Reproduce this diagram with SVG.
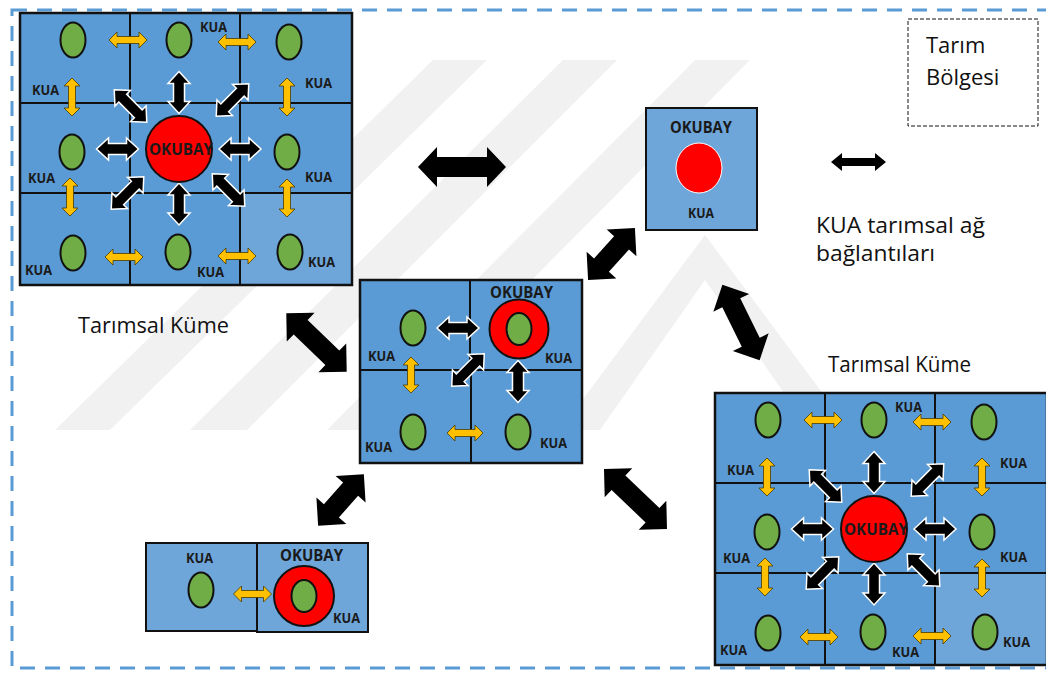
<svg xmlns="http://www.w3.org/2000/svg" xmlns:xlink="http://www.w3.org/1999/xlink" width="1046" height="675" viewBox="0 0 1046 675">
<style>
.cell{fill:#5b9bd5;stroke:#111;stroke-width:2}
.cellL{fill:#6ea6da;stroke:#111;stroke-width:2}
.frame{fill:none;stroke:#111;stroke-width:2.5}
.div{stroke:#111;stroke-width:2}
.olive{fill:#70ad47;stroke:#111;stroke-width:2}
.red{fill:#ff0000;stroke:#111;stroke-width:2}
.ya{fill:#ffc000;stroke:#4a3a00;stroke-width:0.8}
.ba{fill:#000;stroke:#fff;stroke-width:1.5}
.big{fill:#000}
.kua{font-family:"Open Sans","Liberation Sans",sans-serif;font-weight:bold;font-size:14px;fill:#1a1a1a}
.ok{font-family:"Open Sans","Liberation Sans",sans-serif;font-weight:bold;font-size:16px;fill:#1a1a1a}
.lbl{font-family:"Open Sans","Liberation Sans",sans-serif;font-size:22px;fill:#111}
.wm{fill:#f1f1f1}
</style>
<defs>
<path id="ySmall" d="M-19,0 L-11,-8 L-11,-3.5 L11,-3.5 L11,-8 L19,0 L11,8 L11,3.5 L-11,3.5 L-11,8 Z"/>
<path id="ySmall36" d="M-18,0 L-10,-8 L-10,-3.5 L10,-3.5 L10,-8 L18,0 L10,8 L10,3.5 L-10,3.5 L-10,8 Z"/>
<path id="bSmall" d="M-21,0 L-9,-11 L-9,-5.5 L9,-5.5 L9,-11 L21,0 L9,11 L9,5.5 L-9,5.5 L-9,11 Z"/>
<path id="bDiag" d="M-23,0 L-11,-11 L-11,-5.5 L11,-5.5 L11,-11 L23,0 L11,11 L11,5.5 L-11,5.5 L-11,11 Z"/>
</defs>

<g id="watermark">
<polygon class="wm" points="55,430 110,430 487,60 433,60"/>
<polygon class="wm" points="190,430 247,430 617,60 563,60"/>
<polygon class="wm" points="327,430 383,430 750,60 695,60"/>
<polygon class="wm" points="560,430 600,430 705,280 810,430 850,430 705,235"/>
</g>

<rect id="region" x="12" y="10" width="1045" height="658" fill="none" stroke="#5b9bd5" stroke-width="3" stroke-dasharray="15 10"/>

<g id="cluster-tl">
<rect class="cell" x="20" y="13" width="332" height="272"/>
<rect class="cellL" x="240" y="193" width="112" height="92"/>
<line class="div" x1="130" y1="13" x2="130" y2="285"/>
<line class="div" x1="240" y1="13" x2="240" y2="285"/>
<line class="div" x1="20" y1="103" x2="352" y2="103"/>
<line class="div" x1="20" y1="193" x2="352" y2="193"/>
<rect class="frame" x="20" y="13" width="332" height="272"/>
<ellipse class="olive" cx="73" cy="40" rx="12.5" ry="17.5"/>
<ellipse class="olive" cx="179" cy="40" rx="12.5" ry="17.5"/>
<ellipse class="olive" cx="289" cy="42" rx="12.5" ry="17.5"/>
<ellipse class="olive" cx="72" cy="152" rx="12.5" ry="17.5"/>
<ellipse class="olive" cx="287" cy="152" rx="12.5" ry="17.5"/>
<ellipse class="olive" cx="73" cy="253" rx="12.5" ry="17.5"/>
<ellipse class="olive" cx="178" cy="252" rx="12.5" ry="17.5"/>
<ellipse class="olive" cx="290" cy="252" rx="12.5" ry="17.5"/>
<use href="#ySmall" class="ya" transform="translate(128,40)"/>
<use href="#ySmall" class="ya" transform="translate(237,42)"/>
<use href="#ySmall" class="ya" transform="translate(124,257)"/>
<use href="#ySmall" class="ya" transform="translate(237,256)"/>
<use href="#ySmall" class="ya" transform="translate(72,97) rotate(90)"/>
<use href="#ySmall" class="ya" transform="translate(287,97) rotate(90)"/>
<use href="#ySmall" class="ya" transform="translate(70,197) rotate(90)"/>
<use href="#ySmall" class="ya" transform="translate(287,198) rotate(90)"/>
<use href="#bSmall" class="ba" transform="translate(179,92.5) rotate(90)"/>
<use href="#bSmall" class="ba" transform="translate(179,204) rotate(90)"/>
<use href="#bSmall" class="ba" transform="translate(117.5,149)"/>
<use href="#bSmall" class="ba" transform="translate(240,149)"/>
<use href="#bDiag" class="ba" transform="translate(130.5,106) rotate(45)"/>
<use href="#bDiag" class="ba" transform="translate(232.5,100) rotate(-45)"/>
<use href="#bDiag" class="ba" transform="translate(127.5,193) rotate(-45)"/>
<use href="#bDiag" class="ba" transform="translate(228.5,190) rotate(45)"/>
<circle class="red" cx="179" cy="149" r="33"/>
<text class="ok" x="149" y="155" font-size="17" textLength="64" lengthAdjust="spacingAndGlyphs">OKUBAY</text>
<text class="kua" x="200" y="32" textLength="27" lengthAdjust="spacingAndGlyphs">KUA</text>
<text class="kua" x="32" y="95" textLength="27" lengthAdjust="spacingAndGlyphs">KUA</text>
<text class="kua" x="305" y="88" textLength="27" lengthAdjust="spacingAndGlyphs">KUA</text>
<text class="kua" x="28" y="183" textLength="27" lengthAdjust="spacingAndGlyphs">KUA</text>
<text class="kua" x="305" y="182" textLength="27" lengthAdjust="spacingAndGlyphs">KUA</text>
<text class="kua" x="25" y="275" textLength="27" lengthAdjust="spacingAndGlyphs">KUA</text>
<text class="kua" x="197" y="277" textLength="27" lengthAdjust="spacingAndGlyphs">KUA</text>
<text class="kua" x="308" y="267" textLength="27" lengthAdjust="spacingAndGlyphs">KUA</text>
</g>

<g id="cluster-br" transform="translate(695,380)">
<rect class="cell" x="20" y="13" width="332" height="272"/>
<rect class="cellL" x="240" y="193" width="112" height="92"/>
<line class="div" x1="130" y1="13" x2="130" y2="285"/>
<line class="div" x1="240" y1="13" x2="240" y2="285"/>
<line class="div" x1="20" y1="103" x2="352" y2="103"/>
<line class="div" x1="20" y1="193" x2="352" y2="193"/>
<rect class="frame" x="20" y="13" width="332" height="272"/>
<ellipse class="olive" cx="73" cy="40" rx="12.5" ry="17.5"/>
<ellipse class="olive" cx="179" cy="40" rx="12.5" ry="17.5"/>
<ellipse class="olive" cx="289" cy="42" rx="12.5" ry="17.5"/>
<ellipse class="olive" cx="72" cy="152" rx="12.5" ry="17.5"/>
<ellipse class="olive" cx="287" cy="152" rx="12.5" ry="17.5"/>
<ellipse class="olive" cx="73" cy="253" rx="12.5" ry="17.5"/>
<ellipse class="olive" cx="178" cy="252" rx="12.5" ry="17.5"/>
<ellipse class="olive" cx="290" cy="252" rx="12.5" ry="17.5"/>
<use href="#ySmall" class="ya" transform="translate(128,40)"/>
<use href="#ySmall" class="ya" transform="translate(237,42)"/>
<use href="#ySmall" class="ya" transform="translate(124,257)"/>
<use href="#ySmall" class="ya" transform="translate(237,256)"/>
<use href="#ySmall" class="ya" transform="translate(72,97) rotate(90)"/>
<use href="#ySmall" class="ya" transform="translate(287,97) rotate(90)"/>
<use href="#ySmall" class="ya" transform="translate(70,197) rotate(90)"/>
<use href="#ySmall" class="ya" transform="translate(287,198) rotate(90)"/>
<use href="#bSmall" class="ba" transform="translate(179,92.5) rotate(90)"/>
<use href="#bSmall" class="ba" transform="translate(179,204) rotate(90)"/>
<use href="#bSmall" class="ba" transform="translate(117.5,149)"/>
<use href="#bSmall" class="ba" transform="translate(240,149)"/>
<use href="#bDiag" class="ba" transform="translate(130.5,106) rotate(45)"/>
<use href="#bDiag" class="ba" transform="translate(232.5,100) rotate(-45)"/>
<use href="#bDiag" class="ba" transform="translate(127.5,193) rotate(-45)"/>
<use href="#bDiag" class="ba" transform="translate(228.5,190) rotate(45)"/>
<circle class="red" cx="179" cy="149" r="33"/>
<text class="ok" x="149" y="155" font-size="17" textLength="64" lengthAdjust="spacingAndGlyphs">OKUBAY</text>
<text class="kua" x="200" y="32" textLength="27" lengthAdjust="spacingAndGlyphs">KUA</text>
<text class="kua" x="32" y="95" textLength="27" lengthAdjust="spacingAndGlyphs">KUA</text>
<text class="kua" x="305" y="88" textLength="27" lengthAdjust="spacingAndGlyphs">KUA</text>
<text class="kua" x="28" y="183" textLength="27" lengthAdjust="spacingAndGlyphs">KUA</text>
<text class="kua" x="305" y="182" textLength="27" lengthAdjust="spacingAndGlyphs">KUA</text>
<text class="kua" x="25" y="275" textLength="27" lengthAdjust="spacingAndGlyphs">KUA</text>
<text class="kua" x="197" y="277" textLength="27" lengthAdjust="spacingAndGlyphs">KUA</text>
<text class="kua" x="308" y="267" textLength="27" lengthAdjust="spacingAndGlyphs">KUA</text>
</g>

<g id="cluster-center">
<rect class="cell" x="360" y="280" width="222" height="183"/>
<line class="div" x1="470" y1="280" x2="470" y2="370"/>
<line class="div" x1="471" y1="370" x2="471" y2="463"/>
<line class="div" x1="360" y1="370" x2="582" y2="370"/>
<rect class="frame" x="360" y="280" width="222" height="183"/>
<ellipse class="olive" cx="413" cy="328" rx="12.5" ry="17.5"/>
<ellipse class="olive" cx="413" cy="432" rx="12.5" ry="17.5"/>
<ellipse class="olive" cx="518" cy="432" rx="12.5" ry="17.5"/>
<circle class="red" cx="519" cy="329" r="29.5"/>
<ellipse class="olive" cx="519" cy="329" rx="12.5" ry="16"/>
<use href="#bSmall" class="ba" transform="translate(458,328)"/>
<use href="#bDiag" class="ba" transform="translate(468,370) rotate(-45)"/>
<use href="#bSmall" class="ba" transform="translate(518,381.5) rotate(90)"/>
<use href="#ySmall36" class="ya" transform="translate(411,375) rotate(90)"/>
<use href="#ySmall36" class="ya" transform="translate(465,433)"/>
<text class="ok" x="490" y="298" textLength="63" lengthAdjust="spacingAndGlyphs">OKUBAY</text>
<text class="kua" x="368" y="361" textLength="27" lengthAdjust="spacingAndGlyphs">KUA</text>
<text class="kua" x="545" y="363" textLength="27" lengthAdjust="spacingAndGlyphs">KUA</text>
<text class="kua" x="365" y="452" textLength="27" lengthAdjust="spacingAndGlyphs">KUA</text>
<text class="kua" x="540" y="448" textLength="27" lengthAdjust="spacingAndGlyphs">KUA</text>
</g>

<g id="cluster-pair">
<rect class="cellL" x="146" y="543" width="111" height="88"/>
<rect class="cellL" x="257" y="543" width="111" height="89"/>
<ellipse class="olive" cx="201" cy="590" rx="12.5" ry="17.5"/>
<circle class="red" cx="304" cy="596" r="30"/>
<ellipse class="olive" cx="304" cy="596" rx="12.5" ry="16"/>
<use href="#ySmall" class="ya" transform="translate(252.5,594)"/>
<text class="kua" x="186" y="563" textLength="27" lengthAdjust="spacingAndGlyphs">KUA</text>
<text class="ok" x="280" y="561" textLength="63" lengthAdjust="spacingAndGlyphs">OKUBAY</text>
<text class="kua" x="333" y="623" textLength="27" lengthAdjust="spacingAndGlyphs">KUA</text>
</g>

<g id="node-single">
<rect class="cellL" x="646" y="108" width="111" height="122" stroke-width="2.5"/>
<ellipse cx="699" cy="168" rx="23" ry="25" fill="#ff0000" stroke="#fff" stroke-width="1"/>
<text class="ok" x="670" y="133" textLength="62" lengthAdjust="spacingAndGlyphs">OKUBAY</text>
<text class="kua" x="688" y="218" textLength="26" lengthAdjust="spacingAndGlyphs">KUA</text>
</g>

<g id="connectors">
<path class="big" transform="translate(462,167)" d="M-44,0 L-25,-20 L-25,-10 L25,-10 L25,-20 L44,0 L25,20 L25,10 L-25,10 L-25,20 Z"/>
<path class="big" transform="translate(611.5,254) rotate(-48)" d="M-35,0 L-15,-20 L-15,-10 L15,-10 L15,-20 L35,0 L15,20 L15,10 L-15,10 L-15,20 Z"/>
<path class="big" transform="translate(741,322.5) rotate(63.7)" d="M-42,0 L-22,-20 L-22,-10 L22,-10 L22,-20 L42,0 L22,20 L22,10 L-22,10 L-22,20 Z"/>
<path class="big" transform="translate(316.5,342.5) rotate(44)" d="M-42,0 L-22,-20 L-22,-10 L22,-10 L22,-20 L42,0 L22,20 L22,10 L-22,10 L-22,20 Z"/>
<path class="big" transform="translate(341,500) rotate(-48.5)" d="M-34.5,0 L-14.5,-20 L-14.5,-10 L14.5,-10 L14.5,-20 L34.5,0 L14.5,20 L14.5,10 L-14.5,10 L-14.5,20 Z"/>
<path class="big" transform="translate(635.5,499) rotate(43.6)" d="M-43.5,0 L-23.5,-20 L-23.5,-10 L23.5,-10 L23.5,-20 L43.5,0 L23.5,20 L23.5,10 L-23.5,10 L-23.5,20 Z"/>
</g>

<g id="legend">
<rect x="908" y="19" width="130" height="107" fill="#fff" stroke="#111" stroke-width="1" stroke-dasharray="4 2"/>
<text class="lbl" x="926" y="53">Tarım</text>
<text class="lbl" x="926" y="85">Bölgesi</text>
<path class="big" transform="translate(858.5,162)" d="M-27.5,0 L-16.5,-9 L-16.5,-4 L16.5,-4 L16.5,-9 L27.5,0 L16.5,9 L16.5,4 L-16.5,4 L-16.5,9 Z"/>
<text class="lbl" x="816" y="233" font-size="23" textLength="169" lengthAdjust="spacingAndGlyphs">KUA tarımsal ağ</text>
<text class="lbl" x="816" y="261" font-size="23" textLength="119" lengthAdjust="spacingAndGlyphs">bağlantıları</text>
</g>

<text id="label-tl" class="lbl" x="78" y="333" font-size="21" textLength="151" lengthAdjust="spacingAndGlyphs">Tarımsal Küme</text>
<text id="label-br" class="lbl" x="828" y="372" font-size="20" textLength="143" lengthAdjust="spacingAndGlyphs">Tarımsal Küme</text>
</svg>
